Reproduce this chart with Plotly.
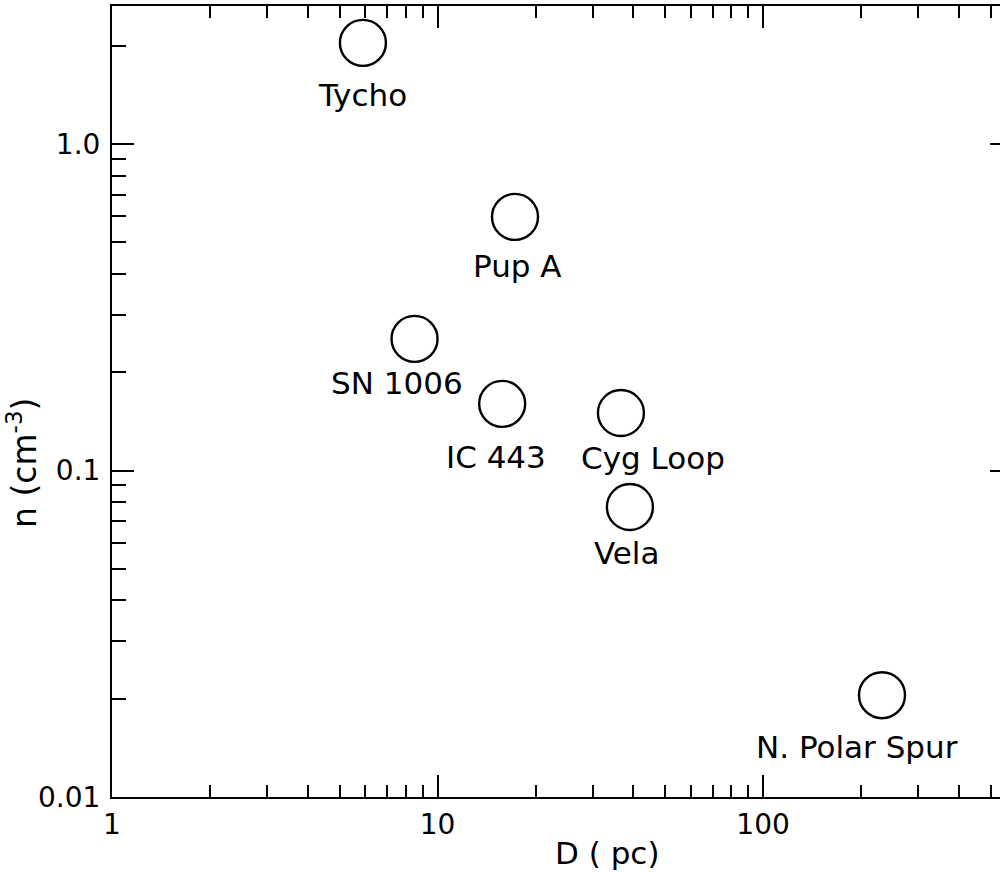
import numpy as np
import plotly.graph_objects as go

# Data
names = ["Tycho", "Pup A", "SN 1006", "IC 443", "Cyg Loop", "Vela", "N. Polar Spur"]
D_pc = [5.9, 17.3, 8.5, 15.8, 36.6, 39.0, 232.0]
n_cm3 = [2.04, 0.598, 0.253, 0.160, 0.150, 0.0773, 0.0205]

x_ticks = [1, 10, 100]
x_ticktext = ["1", "10", "100"]
y_ticks = [0.01, 0.1, 1.0]
y_ticktext = ["0.01", "0.1", "1.0"]

# label offsets in pixels (style)
label_dx = [0, 2, -18, -6, 32, -3, -25]
label_dy = [-52, -49, -44, -53, -45, -46, -52]

FONT = "DejaVu Sans"
fig = go.Figure()
fig.add_trace(go.Scatter(
    x=D_pc, y=n_cm3, mode="markers",
    marker=dict(symbol="circle-open", size=46, color="black", line=dict(width=2.4, color="black")),
    showlegend=False, hoverinfo="skip",
))

for nm, xv, yv, dx, dy in zip(names, D_pc, n_cm3, label_dx, label_dy):
    fig.add_annotation(x=np.log10(xv), y=np.log10(yv), xref="x", yref="y", text=nm,
                       showarrow=False, xshift=dx, yshift=dy,
                       font=dict(family=FONT, size=31, color="black"))

xr = [0, 2.728]
yr = [-2, 0.4227]
common_minor = dict(ticks="inside", ticklen=12, tickwidth=2, tickcolor="black", showgrid=False, dtick="D1")

fig.update_layout(
    width=1000, height=872,
    margin=dict(l=112, r=0, t=6, b=75),
    paper_bgcolor="white", plot_bgcolor="white",
    xaxis=dict(type="log", range=xr, tickvals=x_ticks, ticktext=x_ticktext,
               ticks="inside", ticklen=22, tickwidth=2, tickcolor="black",
               showline=True, linewidth=2, linecolor="black", mirror=False,
               showgrid=False, zeroline=False, minor=common_minor,
               tickfont=dict(family=FONT, size=28, color="black"), ticklabelstandoff=1),
    xaxis2=dict(type="log", range=xr, overlaying="x", side="top", tickvals=x_ticks,
                showticklabels=False, ticks="inside", ticklen=22, tickwidth=2, tickcolor="black",
                showline=True, linewidth=2, linecolor="black", showgrid=False, zeroline=False,
                minor=common_minor),
    yaxis=dict(type="log", range=yr, tickvals=y_ticks, ticktext=y_ticktext,
               ticks="inside", ticklen=22, tickwidth=2, tickcolor="black",
               showline=True, linewidth=2, linecolor="black", mirror=False,
               showgrid=False, zeroline=False, minor=dict(common_minor, ticklen=14),
               tickfont=dict(family=FONT, size=28, color="black"), ticklabelstandoff=4),
    yaxis2=dict(type="log", range=yr, overlaying="y", side="right", tickvals=y_ticks,
                showticklabels=False, ticks="inside", ticklen=10, tickwidth=2, tickcolor="black",
                showline=False, showgrid=False, zeroline=False),
)
# invisible trace to activate overlay axes
fig.add_trace(go.Scatter(x=[D_pc[0]], y=[n_cm3[0]], xaxis="x2", yaxis="y2", mode="markers",
                         marker=dict(opacity=0), showlegend=False, hoverinfo="skip"))

fig.add_annotation(xref="paper", yref="paper", x=(607 - 112) / 888, y=(797 - 853) / 791,
                   text="D ( pc)", showarrow=False, yanchor="middle",
                   font=dict(family=FONT, size=31, color="black"))
fig.add_annotation(xref="paper", yref="paper", x=(22 - 112) / 888, y=(797 - 463) / 791,
                   text="n (cm<sup>-3</sup>)", showarrow=False, textangle=-90,
                   xanchor="center", yanchor="middle",
                   font=dict(family=FONT, size=33, color="black"))

fig.write_html("out.html")
